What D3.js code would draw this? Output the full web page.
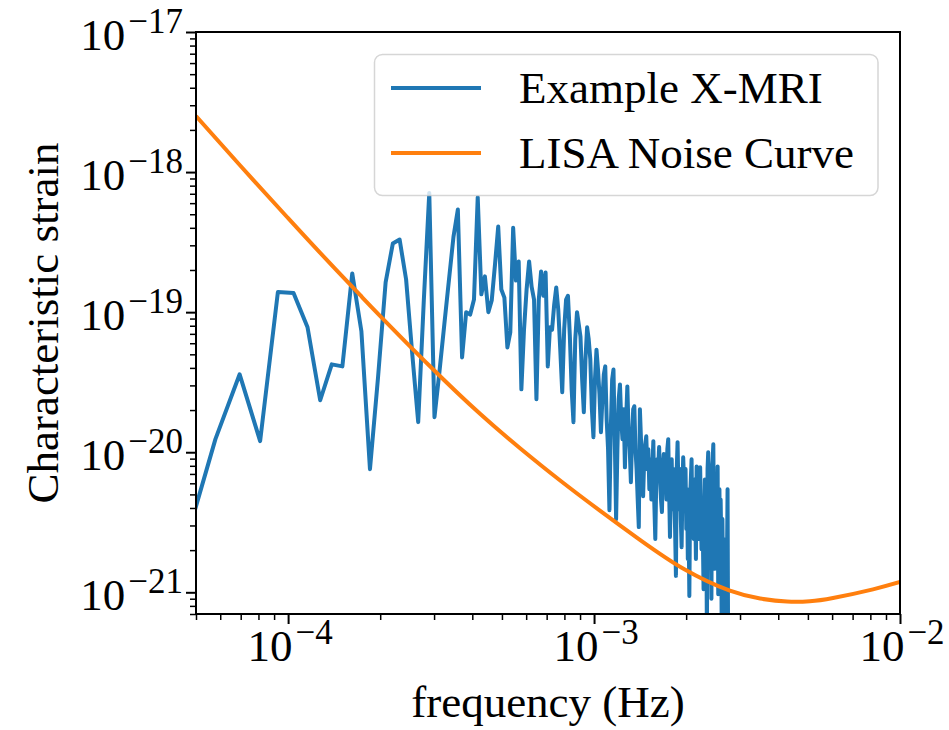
<!DOCTYPE html>
<html><head><meta charset="utf-8">
<script src="https://cdn.jsdelivr.net/npm/d3@7"></script>
<style>
body{margin:0;background:#fff}
svg text{font-family:"Liberation Serif","Times New Roman",serif;fill:#000}
</style>
</head><body>
<svg id="chart" width="949" height="730"></svg>
<script>
// ---------------- data ----------------
// X-MRI spectrum: frequency bins (cycles per day, bin width 1/86400 Hz) and characteristic strain
const xmriBins = [4,5,6,7,8,9,10,11,12,13,14,15,16,17,18,19,20,21,22,23,24,25,26,27,28,29,30,31,32,33,34,35,36,37,38,39,40,41,42,43,44,45,46,47,48,49,50,51,52,53,54,55,56,57,58,59,60,61,62,63,64,65,66,67,68,69,70,71,72,73,74,75,76,77,78,79,80,81,82,83,84,85,86,87,88,89,90,91,92,93,94,95,96,97,98,99,100,101,102,103,104,105,106,107,108,109,110,111,112,113,114,115,116,117,118,119,120,121,122,123,124,125,126,127,128,129,130,131,132,133,134,135,136,137,138,139,140,141,142,143,144,145,146,147,148,149,150,151,152,153,154,155,156,157,158,159,160,161,162,163,164,165,166,167,168,169,170,171,172,173,174,175,176,177,178,179,180,181,182,183,184,185,186,187,188,189,190,191,192,193,194,195,196,197,198,199,200,201,202,203,204,205,206,207,208,209,210,211,212,213,214,215,216,217,218,219,220,221,222,223,224,225,226,227,228,229,230,231,232,233,234,235,236,237,238];
const secondsPerDay = 86400;
const xmriStrain = [
2.3e-21,1.24e-20,3.6e-20,1.2e-20,1.39e-19,1.37e-19,7.8e-20,2.35e-20,4.24e-20,4.1e-20,
1.89e-19,7.3e-20,7.57e-21,3.42e-20,1.63e-19,3.09e-19,3.3e-19,1.71e-19,5.0e-20,1.64e-20,
1.23e-19,7.1e-19,1.78e-20,3.78e-20,8.2e-20,1.71e-19,3.46e-19,5.4e-19,4.75e-20,1.0e-19,
9.6e-20,1.23e-19,6.6e-19,1.34e-19,1.8e-19,1.0e-19,1.21e-19,2.19e-19,4.08e-19,1.45e-19,
1.27e-19,5.6e-20,7.17e-20,4.0e-19,1.68e-19,2.3e-19,2.81e-20,7.5e-20,1.45e-19,2.3e-19,
1.52e-19,1.23e-19,2.39e-20,1.23e-19,1.95e-19,1.31e-19,1.92e-19,4.1e-20,7.8e-20,7.5e-20,
1.13e-19,1.5e-19,1.04e-19,5.4e-20,2.68e-20,7.5e-20,1.23e-19,1.31e-19,6.8e-20,2.81e-20,
1.64e-20,6.4e-20,1.0e-19,8.2e-20,6.7e-20,3.3e-20,1.93e-20,4.6e-20,7.8e-20,6.4e-20,
4.6e-20,2.03e-20,1.28e-20,3.3e-20,5.4e-20,3.9e-20,2.59e-20,1.39e-20,2.39e-20,3.6e-20,
4.1e-20,1.72e-20,1.05e-20,3.86e-21,1.46e-20,3.3e-20,3.9e-20,1.24e-20,3.33e-21,1.05e-20,
2.39e-20,3.05e-20,1.72e-20,1.24e-20,2.03e-20,7.8e-21,1.72e-20,2.95e-20,1.46e-20,1.05e-20,
6.1e-21,1.24e-20,2.03e-20,2.13e-20,1.05e-20,7.57e-21,4.6e-21,2.92e-21,2.03e-20,1.24e-20,
7.6e-21,4.85e-21,8.9e-21,1.14e-20,1.3e-20,7.6e-21,1.05e-20,5.45e-21,8.9e-21,4.6e-21,
7.6e-21,1.2e-20,4.26e-21,2.4e-21,6.4e-21,8.9e-21,7.6e-21,1.09e-20,6.4e-21,4.6e-21,
3.74e-21,7.6e-21,9.7e-21,5.45e-21,8.2e-21,4.6e-21,1.05e-20,1.24e-20,5.45e-21,2.48e-21,
6.4e-21,8.9e-21,3.92e-21,7.6e-21,4.6e-21,2.83e-21,1.31e-21,7.6e-21,1.18e-20,5.45e-21,
3.92e-21,7.6e-21,3.33e-21,2.1e-21,5.45e-21,9.2e-21,6.4e-21,3.92e-21,7.6e-21,2.83e-21,
5.45e-21,1.73e-21,3.33e-21,9.4e-22,4.6e-21,6.4e-21,8.9e-21,3.33e-21,5.45e-21,2.4e-21,
6.4e-21,3.92e-21,1.73e-21,7.9e-21,4.6e-21,2.4e-21,5.45e-21,3.33e-21,7.8e-21,3.92e-21,
2.03e-21,4.6e-21,2.4e-21,1.05e-21,3.33e-21,6.4e-21,2.4e-21,4.6e-21,4.6e-22,7.6e-21,
1.0e-20,4.6e-21,1.73e-21,6.4e-21,3.33e-21,9.0e-22,7.6e-21,8.9e-21,1.14e-20,3.33e-21,
1.47e-21,4.6e-21,2.4e-21,6.4e-21,3.92e-21,7.9e-21,9.7e-22,3.33e-21,5.45e-21,1.73e-21,
4.6e-21,2.4e-21,3.9e-22,3.33e-21,1.24e-21,2.4e-21,9.0e-22,1.73e-21,6.4e-22,1.24e-21,
4.6e-22,1.73e-21,5.45e-21,3.9e-22,1e-30];

// LISA noise curve
const lisaFreq   = [5e-5, 6.96e-5, 9.92e-5, 1.271e-4, 1.718e-4, 1.997e-4, 2.909e-4, 4.24e-4, 5.73e-4, 7.73e-4, 1.045e-3, 1.4125e-3, 1.98e-3, 2.78e-3, 3.49e-3, 4.27e-3, 5.07e-3, 6.04e-3, 8.16e-3, 1e-2];
const lisaStrain = [2.51e-18, 1.118e-18, 4.78e-19, 2.66e-19, 1.326e-19, 9.42e-20, 4.11e-20, 1.88e-20, 1.068e-20, 6.31e-21, 3.83e-21, 2.37e-21, 1.454e-21, 1.026e-21, 9.02e-22, 8.58e-22, 8.62e-22, 9.10e-22, 1.05e-21, 1.184e-21];

const seriesNames = ["Example X-MRI", "LISA Noise Curve"];
const seriesColors = ["#1f77b4", "#ff7f0e"];

const xMajorTicks = [1e-4, 1e-3, 1e-2];
const xMajorExp = ["\u22124", "\u22123", "\u22122"];
const xMinorTicks = [5e-5,6e-5,7e-5,8e-5,9e-5,2e-4,3e-4,4e-4,5e-4,6e-4,7e-4,8e-4,9e-4,2e-3,3e-3,4e-3,5e-3,6e-3,7e-3,8e-3,9e-3];
const yMajorTicks = [1e-21, 1e-20, 1e-19, 1e-18, 1e-17];
const yMajorExp = ["\u221221", "\u221220", "\u221219", "\u221218", "\u221217"];
const yMinorTicks = [7e-22,8e-22,9e-22,
  2e-21,3e-21,4e-21,5e-21,6e-21,7e-21,8e-21,9e-21,
  2e-20,3e-20,4e-20,5e-20,6e-20,7e-20,8e-20,9e-20,
  2e-19,3e-19,4e-19,5e-19,6e-19,7e-19,8e-19,9e-19,
  2e-18,3e-18,4e-18,5e-18,6e-18,7e-18,8e-18,9e-18];

// ---------------- layout ----------------
const L = 196, R = 900, T = 32, B = 614;
const svg = d3.select("#chart");
const x = d3.scaleLog().domain([5e-5, 1e-2]).range([L, R]);
const y = d3.scaleLog().domain([7e-22, 1e-17]).range([B, T]);

svg.append("defs").append("clipPath").attr("id","plotclip")
  .append("rect").attr("x",L).attr("y",T).attr("width",R-L).attr("height",B-T);

const plot = svg.append("g").attr("clip-path","url(#plotclip)");

const xmri = xmriBins.map((b,i)=>({f: b/secondsPerDay, h: xmriStrain[i]}));
const lisa = lisaFreq.map((f,i)=>({f, h: lisaStrain[i]}));

plot.append("path").datum(xmri)
  .attr("d", d3.line().x(d=>x(d.f)).y(d=>y(d.h)))
  .attr("fill","none").attr("stroke",seriesColors[0]).attr("stroke-width",4)
  .attr("stroke-linejoin","round").attr("stroke-linecap","butt");

plot.append("path").datum(lisa)
  .attr("d", d3.line().x(d=>x(d.f)).y(d=>y(d.h)).curve(d3.curveNatural))
  .attr("fill","none").attr("stroke",seriesColors[1]).attr("stroke-width",4)
  .attr("stroke-linecap","butt");

// ---------------- axes ----------------
function styleAxis(g, w){
  g.select(".domain").remove();
  g.selectAll(".tick line").attr("stroke","#000").attr("stroke-width",w);
  g.selectAll(".tick text").remove();
}
svg.append("g").attr("transform",`translate(0,${B})`)
  .call(d3.axisBottom(x).tickValues(xMinorTicks).tickSize(6).tickFormat(()=>""))
  .call(g=>styleAxis(g,1.5));
svg.append("g").attr("transform",`translate(0,${B})`)
  .call(d3.axisBottom(x).tickValues(xMajorTicks).tickSize(10).tickFormat(()=>""))
  .call(g=>styleAxis(g,2));
svg.append("g").attr("transform",`translate(${L},0)`)
  .call(d3.axisLeft(y).tickValues(yMinorTicks).tickSize(6).tickFormat(()=>""))
  .call(g=>styleAxis(g,1.5));
svg.append("g").attr("transform",`translate(${L},0)`)
  .call(d3.axisLeft(y).tickValues(yMajorTicks).tickSize(10).tickFormat(()=>""))
  .call(g=>styleAxis(g,2));

// frame
svg.append("rect").attr("x",L).attr("y",T).attr("width",R-L).attr("height",B-T)
  .attr("fill","none").attr("stroke","#000").attr("stroke-width",2);

// tick labels
xMajorTicks.forEach((v,i)=>{
  const t = svg.append("text").attr("x",x(v)+2).attr("y",661)
    .attr("text-anchor","middle").attr("font-size",45);
  t.append("tspan").text("10");
  t.append("tspan").attr("dy",-17).attr("dx",3).attr("font-size",35).text(xMajorExp[i]);
});
yMajorTicks.forEach((v,i)=>{
  const t = svg.append("text").attr("x",183).attr("y",y(v)+18)
    .attr("text-anchor","end").attr("font-size",45);
  t.append("tspan").text("10");
  t.append("tspan").attr("dy",-17).attr("dx",3).attr("font-size",35).text(yMajorExp[i]);
});

// axis titles
svg.append("text").attr("x",(L+R)/2).attr("y",717).attr("text-anchor","middle")
  .attr("font-size",45).text("frequency (Hz)");
svg.append("text").attr("transform",`translate(58,${(T+B)/2}) rotate(-90)`)
  .attr("text-anchor","middle").attr("font-size",45).text("Characteristic strain");

// ---------------- legend ----------------
const lg = svg.append("g");
lg.append("rect").attr("x",374.5).attr("y",54.5).attr("width",503.5).attr("height",141)
  .attr("rx",8).attr("fill","#fff").attr("fill-opacity",0.8)
  .attr("stroke","#cccccc").attr("stroke-opacity",0.8).attr("stroke-width",1.5);
seriesNames.forEach((name,i)=>{
  const cy = 88 + i*65;
  lg.append("line").attr("x1",391).attr("x2",481).attr("y1",cy).attr("y2",cy)
    .attr("stroke",seriesColors[i]).attr("stroke-width",4);
  lg.append("text").attr("x",519).attr("y",cy+15).attr("font-size",45).text(name);
});
</script>
</body></html>
